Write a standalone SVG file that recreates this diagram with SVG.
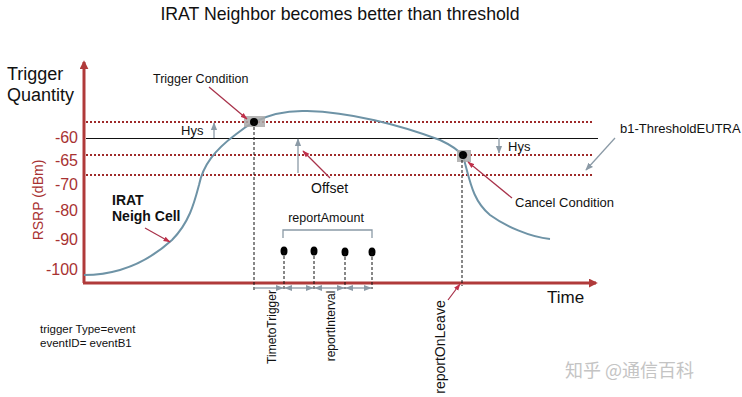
<svg xmlns="http://www.w3.org/2000/svg" width="742" height="397" viewBox="0 0 742 397">
<style>
text{font-family:"Liberation Sans",Arial,sans-serif;fill:#111}
.tick{font-size:16px;fill:#a83232;text-anchor:end}
.dot{stroke:#9e2a2a;stroke-width:2;stroke-dasharray:2 2;fill:none}
.vdash{stroke:#111;stroke-width:1;stroke-dasharray:3 2;fill:none}
.red{stroke:#a8324a;stroke-width:1.2;fill:none;marker-end:url(#ra)}
.gray{stroke:#8b9aa6;stroke-width:1.3;fill:none}
.lbl{font-size:12.5px}
</style>
<defs>
<marker id="ra" viewBox="0 0 10 10" refX="9" refY="5" markerWidth="6" markerHeight="6" orient="auto"><path d="M0,1.5 L10,5 L0,8.5 z" fill="#c0304a"/></marker>
<marker id="ga" viewBox="0 0 10 10" refX="9" refY="5" markerWidth="6" markerHeight="6" orient="auto-start-reverse"><path d="M0,1 L10,5 L0,9 z" fill="#8b9aa6"/></marker>
<marker id="axa" viewBox="0 0 10 10" refX="8" refY="5" markerWidth="3" markerHeight="3" orient="auto"><path d="M0,0 L10,5 L0,10 z" fill="#b03a3a"/></marker>
</defs>
<rect width="742" height="397" fill="#fff"/>
<text x="340" y="20" font-size="17.7" text-anchor="middle">IRAT Neighbor becomes better than threshold</text>
<g id="axes">
<line x1="84" y1="283" x2="84" y2="62" stroke="#b03a3a" stroke-width="3" marker-end="url(#axa)"/>
<line x1="83" y1="283" x2="596" y2="283" stroke="#b03a3a" stroke-width="3" marker-end="url(#axa)"/>
<text x="7" y="80" font-size="18">Trigger</text>
<text x="7" y="101" font-size="18">Quantity</text>
<text x="547" y="303" font-size="17">Time</text>
<text class="tick" x="78" y="143">-60</text>
<text class="tick" x="78" y="166">-65</text>
<text class="tick" x="78" y="190">-70</text>
<text class="tick" x="78" y="216">-80</text>
<text class="tick" x="78" y="245">-90</text>
<text class="tick" x="78" y="275">-100</text>
<text x="0" y="0" font-size="14" text-anchor="middle" transform="translate(43,200) rotate(-90)" style="fill:#a83232">RSRP (dBm)</text>
</g>
<g id="thresholds">
<line class="dot" x1="86" y1="122" x2="592" y2="122"/>
<line x1="86" y1="138.5" x2="598" y2="138.5" stroke="#111" stroke-width="1"/>
<line class="dot" x1="86" y1="155" x2="592" y2="155"/>
<line class="dot" x1="86" y1="175" x2="592" y2="175"/>
</g>
<g id="curve">
<path d="M84,275 C120,275 150,260 172,240 C190,222 195,200 199,185 C203,165 215,150 235,135 C255,118 280,110 307,111 C350,112 400,125 440,140 C455,147 460,152 463,156 C470,180 472,200 490,215 C505,226 530,237 550,239" fill="none" stroke="#6e93a6" stroke-width="2"/>
</g>
<g id="trigger-point">
<rect x="244" y="116" width="21" height="11" fill="#a9a9a9" opacity="0.85"/>
<circle cx="254" cy="122" r="4" fill="#000"/>
<line class="vdash" x1="254" y1="122" x2="254" y2="291"/>
</g>
<g id="cancel-point">
<rect x="457" y="150" width="14" height="12" fill="#a9a9a9" opacity="0.85"/>
<circle cx="463" cy="155" r="4" fill="#000"/>
<line class="vdash" x1="462" y1="155" x2="462" y2="286"/>
</g>
<g id="labels">
<text class="lbl" x="153" y="83">Trigger Condition</text>
<text x="181" y="135" font-size="13">Hys</text>
<text x="508" y="151" font-size="13">Hys</text>
<text x="311" y="193" font-size="14">Offset</text>
<text x="620" y="133" font-size="13">b1-ThresholdEUTRA</text>
<text x="515" y="207" font-size="13">Cancel Condition</text>
<text x="112" y="205" font-size="14" font-weight="bold">IRAT</text>
<text x="112" y="221" font-size="14" font-weight="bold">Neigh Cell</text>
<text x="326" y="222" font-size="12.5" text-anchor="middle">reportAmount</text>
<text x="40" y="333" font-size="11.5">trigger Type=event</text>
<text x="40" y="347" font-size="11.5">eventID= eventB1</text>
<text x="0" y="0" font-size="12" text-anchor="middle" transform="translate(276,327) rotate(-90)">TimetoTrigger</text>
<text x="0" y="0" font-size="12" text-anchor="middle" transform="translate(335,326) rotate(-90)">reportInterval</text>
<text x="0" y="0" font-size="14" text-anchor="middle" transform="translate(445,347) rotate(-90)">reportOnLeave</text>
<text x="565" y="377" font-size="18" style="fill:#c4c4c4;font-family:'Noto Sans CJK SC',sans-serif">知乎 @通信百科</text>
</g>
<g id="connectors">
<line class="red" x1="209" y1="87" x2="247" y2="119"/>
<line class="red" x1="330" y1="178" x2="303" y2="151"/>
<line class="red" x1="512" y1="198" x2="468" y2="162"/>
<line class="red" x1="145" y1="228" x2="170" y2="242"/>
<line class="red" x1="448" y1="300" x2="460" y2="284"/>
<line class="gray" x1="214" y1="138" x2="214" y2="123" marker-end="url(#ga)"/>
<line class="gray" x1="298" y1="173" x2="298" y2="139" marker-end="url(#ga)"/>
<line class="gray" x1="499" y1="138" x2="499" y2="153" marker-end="url(#ga)"/>
<line class="gray" x1="615" y1="138" x2="586" y2="170" marker-end="url(#ga)"/>
<path class="gray" d="M283,238 V230 H372 V238"/>
</g>
<g id="reports">
<ellipse cx="284" cy="251" rx="3.5" ry="4.5" fill="#000"/>
<ellipse cx="314" cy="251" rx="3.5" ry="4.5" fill="#000"/>
<ellipse cx="345" cy="252" rx="3.5" ry="4.5" fill="#000"/>
<ellipse cx="372" cy="252" rx="3.5" ry="4.5" fill="#000"/>
<line class="vdash" x1="284" y1="251" x2="284" y2="289"/>
<line class="vdash" x1="314" y1="251" x2="314" y2="289"/>
<line class="vdash" x1="345" y1="252" x2="345" y2="289"/>
<line class="vdash" x1="372" y1="252" x2="372" y2="289"/>
<line class="gray" x1="255" y1="288" x2="283" y2="288" marker-end="url(#ga)"/>
<line class="gray" x1="285" y1="288" x2="313" y2="288" marker-start="url(#ga)" marker-end="url(#ga)"/>
<line class="gray" x1="315" y1="288" x2="344" y2="288" marker-start="url(#ga)" marker-end="url(#ga)"/>
<line class="gray" x1="346" y1="288" x2="371" y2="288" marker-start="url(#ga)" marker-end="url(#ga)"/>
</g>
</svg>
